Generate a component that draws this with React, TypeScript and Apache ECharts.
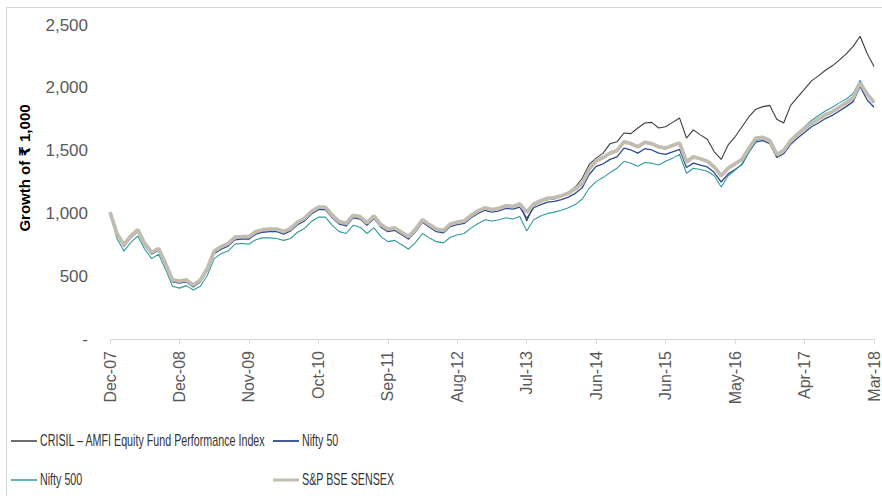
import React, { useEffect, useRef } from "react";
import * as echarts from "echarts";

const tickLabels = ["Dec-07", "Dec-08", "Nov-09", "Oct-10", "Sep-11", "Aug-12", "Jul-13", "Jun-14", "Jun-15", "May-16", "Apr-17", "Mar-18"];
// one value every tenth of a label interval
const step = 0.1;

const crisil = [
  1000, 830, 740, 810, 860, 750, 680, 710, 590, 460,
  450, 460, 420, 460, 550, 690, 725, 750, 800, 805,
  805, 845, 860, 865, 865, 845, 870, 920, 950, 1005,
  1040, 1040, 975, 925, 910, 975, 965, 915, 970, 900,
  865, 875, 840, 805, 865, 940, 900, 865, 855, 905,
  925, 935, 980, 1020, 1045, 1035, 1045, 1065, 1060, 1080,
  940, 1060, 1090, 1110, 1115, 1140, 1170, 1210, 1280, 1390,
  1440, 1480, 1555, 1570, 1640, 1635, 1680, 1720, 1725, 1680,
  1690, 1725, 1760, 1600, 1665, 1625, 1590, 1490, 1430, 1545,
  1610, 1690, 1770, 1830, 1850, 1860, 1750, 1720, 1860, 1925,
  1990, 2055, 2095, 2140, 2175, 2220, 2270, 2330, 2410, 2275,
  2170,
];

const nifty50 = [
  1005, 830, 740, 805, 855, 745, 675, 705, 585, 455,
  445, 455, 415, 455, 545, 680, 715, 740, 790, 795,
  795, 835, 850, 855, 855, 835, 860, 910, 940, 995,
  1030, 1030, 965, 915, 900, 965, 955, 905, 960, 890,
  855, 865, 830, 795, 855, 930, 890, 855, 845, 895,
  910, 920, 965, 1000, 1025, 1010, 1020, 1040, 1035, 1050,
  960, 1045, 1070, 1090, 1095, 1110, 1130, 1160, 1205, 1310,
  1375, 1395, 1430, 1450, 1520, 1505, 1480, 1515, 1505, 1480,
  1470, 1490, 1510, 1365, 1400, 1385, 1370, 1325, 1250, 1315,
  1350, 1390, 1490, 1570, 1580, 1555, 1445, 1475, 1550, 1600,
  1645, 1690, 1720, 1755, 1780, 1815, 1850, 1890, 2010, 1905,
  1845,
];

const nifty500 = [
  1000, 800, 700, 770, 820, 715, 640, 675, 555, 420,
  405, 425, 390, 420, 505, 640, 680, 700, 755, 760,
  755, 790, 805, 805, 800, 785, 800, 850, 880, 935,
  970, 970, 905, 855, 840, 905, 890, 840, 885, 815,
  775, 785, 750, 715, 770, 840, 805, 775, 765, 810,
  830, 840, 885, 920, 950, 940, 950, 965, 955, 975,
  860, 950, 980, 1000, 1010, 1025, 1045, 1070, 1115, 1200,
  1255, 1285, 1325, 1360, 1415, 1400, 1375, 1405, 1400, 1385,
  1415, 1440, 1470, 1320, 1360, 1350, 1335, 1300, 1210, 1300,
  1345, 1395, 1490, 1580, 1595, 1575, 1460, 1490, 1580, 1640,
  1690, 1740, 1780, 1815, 1845, 1880, 1910, 1955, 2060, 1950,
  1880,
];

const sensex = [
  1010, 840, 750, 820, 870, 760, 690, 720, 600, 470,
  460, 470, 430, 470, 560, 700, 735, 760, 810, 815,
  815, 855, 870, 875, 875, 855, 880, 930, 960, 1015,
  1050, 1050, 985, 935, 920, 985, 975, 925, 980, 910,
  875, 885, 850, 815, 875, 950, 910, 875, 865, 915,
  930, 940, 985, 1020, 1045, 1030, 1040, 1060, 1055, 1075,
  1010, 1075, 1100, 1120, 1125, 1140, 1160, 1195, 1240, 1350,
  1420, 1445, 1480, 1500, 1570, 1555, 1530, 1565, 1555, 1530,
  1520, 1540, 1560, 1410, 1450, 1435, 1415, 1370, 1300, 1360,
  1395, 1430, 1520, 1600, 1605, 1580, 1470, 1500, 1580, 1630,
  1675, 1715, 1750, 1785, 1810, 1845, 1880, 1920, 2040, 1950,
  1885,
];

const seriesNames = ["CRISIL – AMFI Equity Fund Performance Index", "Nifty 50", "Nifty 500", "S&P BSE SENSEX"];
const seriesValues = [crisil, nifty50, nifty500, sensex];
const seriesColors = ["#3d3d3d", "#2c4a8e", "#2f9aa0", "#c3bdb1"];
const seriesWidths = [1.1, 1.3, 1.1, 3.8];

const FONT = "'Liberation Sans', Arial, 'DejaVu Sans', sans-serif";

// legend slots: [left of icon, row centre]
const legendSlots = [
  [11, 441],
  [273, 441],
  [11, 480],
  [273, 480],
];

export default function App() {
  const ref = useRef<HTMLDivElement>(null);
  useEffect(() => {
    if (!ref.current) return;
    const chart = echarts.init(ref.current, undefined, { renderer: "svg" });
    const legendIconH = [1.5, 1.8, 1.5, 3];
    chart.setOption({
      animation: false,
      backgroundColor: "#ffffff",
      grid: { left: 110, right: 4, top: 25, bottom: 157 },
      xAxis: {
        type: "value",
        min: 0,
        max: 11,
        interval: 1,
        axisLine: { show: true, lineStyle: { color: "#d9d9d9", width: 1 } },
        axisTick: { show: true, length: 5, lineStyle: { color: "#d9d9d9" } },
        splitLine: { show: false },
        axisLabel: {
          rotate: 90,
          margin: 12,
          fontSize: 16,
          color: "#595959",
          fontFamily: FONT,
          formatter: (v: number) => tickLabels[Math.round(v)] ?? "",
        },
      },
      yAxis: {
        type: "value",
        min: 0,
        max: 2500,
        interval: 500,
        axisLine: { show: false },
        axisTick: { show: false },
        splitLine: { show: false },
        axisLabel: {
          margin: 22,
          fontSize: 17,
          color: "#595959",
          fontFamily: FONT,
          formatter: (v: number) => (v === 0 ? "-" : v.toLocaleString("en-US")),
        },
      },
      legend: seriesNames.map((name, k) => ({
        data: [{ name, icon: "rect" }],
        left: legendSlots[k][0],
        top: legendSlots[k][1] - legendIconH[k] / 2,
        padding: 0,
        itemWidth: 26,
        itemHeight: legendIconH[k],
        formatter: () => "",
        textStyle: { fontSize: 1 },
        selectedMode: false,
      })),
      graphic: [
        {
          type: "rect",
          silent: true,
          z: -10,
          shape: { x: 6.5, y: 7.5, width: 1000, height: 1000 },
          style: { fill: "none", stroke: "#d4d4d4", lineWidth: 1 },
        },
        {
          type: "text",
          x: 24,
          y: 168,
          rotation: Math.PI / 2,
          style: {
            text: "Growth of ₹ 1,000",
            font: "bold 15px " + FONT,
            fill: "#000000",
            align: "center",
            verticalAlign: "middle",
          },
        },
        ...seriesNames.map((name, k) => ({
          type: "text",
          x: legendSlots[k][0] + 29,
          y: legendSlots[k][1],
          scaleX: 0.67,
          style: {
            text: name,
            font: "16px " + FONT,
            fill: "#333333",
            align: "left",
            verticalAlign: "middle",
          },
        })),
      ],
      series: seriesNames.map((name, k) => ({
        name,
        type: "line",
        symbol: "none",
        showSymbol: false,
        data: seriesValues[k].map((v, i) => [i * step, v]),
        lineStyle: { color: seriesColors[k], width: seriesWidths[k] },
        itemStyle: { color: seriesColors[k] },
        z: 2 + k,
      })),
    });
    return () => chart.dispose();
  }, []);
  return (
    <div
      ref={ref}
      style={{ position: "absolute", left: 0, top: 0, width: 882, height: 496, background: "#fff" }}
    />
  );
}
